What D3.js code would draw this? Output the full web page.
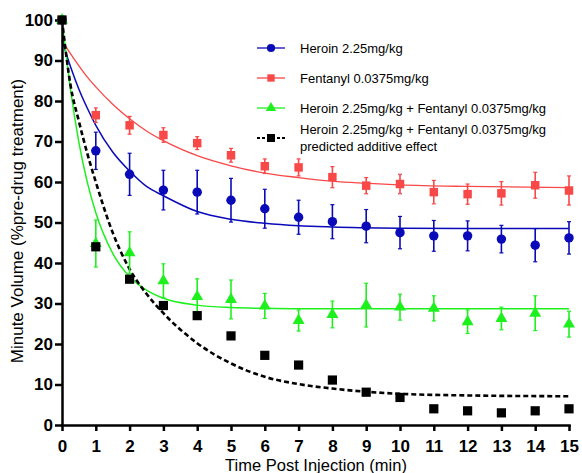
<!DOCTYPE html>
<html>
<head>
	<title></title>
	<style>
		body { margin: 0; background: #fff; }
		text { font-family: "Liberation Sans", Arial, sans-serif; }
		.axis path, .axis line { stroke: #000; stroke-width: 2.5; }
		.axis text { font-size: 17px; font-weight: bold; fill: #000; }
		.fit { fill: none; }
	</style>
</head>
<body>
	<svg id="container" width="582" height="473"></svg>
</body>
<script src="https://d3js.org/d3.v7.min.js"></script>
<script>
	// measured points (mean +/- SEM), one per minute
	let times = [0, 1, 2, 3, 4, 5, 6, 7, 8, 9, 10, 11, 12, 13, 14, 15]
	let heroinMean = [100, 67.7, 61.9, 58.0, 57.5, 55.5, 53.4, 51.3, 50.2, 49.1, 47.5, 46.7, 46.7, 45.9, 44.4, 46.2]
	let heroinSem = [0, 4.6, 5.2, 4.9, 5.4, 5.4, 4.8, 4.2, 4.2, 4.1, 4.0, 3.8, 3.7, 3.4, 4.1, 4.0]
	let fentanylMean = [100, 76.5, 74.0, 71.6, 69.6, 66.6, 63.9, 63.6, 61.2, 59.1, 59.5, 57.5, 57.0, 57.2, 59.2, 57.9]
	let fentanylSem = [0, 1.8, 2.2, 1.8, 1.6, 1.7, 1.8, 2.1, 2.6, 2.0, 2.4, 2.9, 2.5, 2.9, 3.2, 3.6]
	let comboMean = [100, 44.8, 42.5, 35.6, 31.7, 31.0, 29.4, 25.8, 27.3, 29.6, 29.1, 28.8, 25.5, 26.3, 27.6, 24.9]
	let comboSem = [0, 5.8, 5.2, 4.2, 4.4, 4.8, 3.1, 2.6, 3.3, 5.4, 3.2, 3.1, 2.9, 2.8, 4.3, 3.2]
	let additiveMean = [100, 44.0, 36.0, 29.5, 27.0, 22.0, 17.2, 14.8, 11.1, 8.1, 6.8, 4.0, 3.5, 3.0, 3.5, 4.0]

	// fitted curves
	let fitX = [0, 0.25, 0.5, 0.75, 1, 1.5, 2, 2.5, 3, 4, 5, 6, 7, 8, 10, 12, 15]
	let heroinFit = [95, 88.5, 82.9, 78.2, 74.0, 67.4, 62.7, 58.9, 56.6, 52.7, 50.8, 49.8, 49.2, 48.9, 48.6, 48.5, 48.5]
	let fentanylFit = [95, 91.7, 88.7, 85.9, 83.5, 79.2, 75.6, 72.6, 70.2, 66.5, 64.0, 62.2, 61.1, 60.2, 59.3, 58.9, 58.6]
	let comboFit = [100, 82.9, 69.8, 59.9, 52.4, 42.4, 36.6, 33.3, 31.3, 29.6, 29.0, 28.8, 28.7, 28.7, 28.7, 28.7, 28.7]
	let additiveFit = [100, 84, 75, 67, 60, 47.5, 38.5, 32.4, 27.6, 20.2, 15.2, 11.9, 10.1, 9.0, 7.7, 7.3, 7.1]

	let legendLabels = [
		["Heroin 2.25mg/kg"],
		["Fentanyl 0.0375mg/kg"],
		["Heroin 2.25mg/kg + Fentanyl 0.0375mg/kg"],
		["Heroin 2.25mg/kg + Fentanyl 0.0375mg/kg", "predicted additive effect"]
	]
	let yTicks = [0, 10, 20, 30, 40, 50, 60, 70, 80, 90, 100]

	let svg = d3.select("#container")

	let x = d3.scaleLinear().domain([0, 15]).range([62, 569])
	let y = d3.scaleLinear().domain([0, 100]).range([425, 20])

	let series = [
		{ mean: heroinMean, sem: heroinSem, fit: heroinFit, color: "#0a0ab8", shape: d3.symbolCircle, size: 70, width: 1.5, dash: null },
		{ mean: fentanylMean, sem: fentanylSem, fit: fentanylFit, color: "#f94848", shape: d3.symbolSquare, size: 72, width: 1.3, dash: null },
		{ mean: comboMean, sem: comboSem, fit: comboFit, color: "#1ef01e", shape: d3.symbolTriangle, size: 62, width: 1.5, dash: null },
		{ mean: additiveMean, sem: null, fit: additiveFit, color: "#000000", shape: d3.symbolSquare, size: 85, width: 2.6, dash: "5,3" }
	]

	let line = d3.line()
		.x(d => x(d[0]))
		.y(d => y(d[1]))
		.curve(d3.curveMonotoneX)

	// fit lines first, then points over them
	series.forEach(s => {
		svg.append("path")
			.attr("class", "fit")
			.attr("d", line(fitX.map((t, i) => [t, s.fit[i]])))
			.attr("stroke", s.color)
			.attr("stroke-width", s.width)
			.attr("stroke-dasharray", s.dash)
	})

	// axes
	let yAxis = d3.axisLeft(y).tickValues(yTicks).tickSize(7).tickSizeOuter(0).tickPadding(2)
	svg.append("g").attr("class", "axis")
		.attr("transform", "translate(62,0)")
		.call(yAxis)

	let xAxis = d3.axisBottom(x).tickValues(times).tickFormat(d3.format("d")).tickSize(6).tickSizeOuter(0).tickPadding(9)
	svg.append("g").attr("class", "axis")
		.attr("transform", "translate(0,425)")
		.call(xAxis)

	svg.selectAll(".axis path.domain").attr("stroke-linecap", "square")

	series.forEach(s => {
		let g = svg.append("g")
		let pts = times.map((t, i) => ({ t: t, m: s.mean[i], e: s.sem ? s.sem[i] : 0 }))
		if (s.sem) {
			let bars = g.selectAll(".bar").data(pts.filter(d => d.e > 0)).enter().append("g")
			bars.append("line")
				.attr("x1", d => x(d.t)).attr("x2", d => x(d.t))
				.attr("y1", d => y(d.m + d.e)).attr("y2", d => y(d.m - d.e))
				.attr("stroke", s.color).attr("stroke-width", 1.6)
			bars.selectAll(".cap").data(d => [d.m + d.e, d.m - d.e].map(v => ({ t: d.t, v: v })))
				.enter().append("line")
				.attr("x1", d => x(d.t) - 2).attr("x2", d => x(d.t) + 2)
				.attr("y1", d => y(d.v)).attr("y2", d => y(d.v))
				.attr("stroke", s.color).attr("stroke-width", 1.2)
		}
		g.selectAll(".pt").data(pts).enter().append("path")
			.attr("d", d3.symbol().type(s.shape).size(s.size))
			.attr("transform", d => `translate(${x(d.t)},${y(d.m)})`)
			.attr("fill", s.color)
	})

	// legend
	let legendY = [48, 78, 108, 138]
	let legend = svg.append("g")
	series.forEach((s, i) => {
		let row = legend.append("g").attr("transform", `translate(0,${legendY[i]})`)
		row.append("line")
			.attr("x1", 257).attr("x2", 285)
			.attr("stroke", s.color)
			.attr("stroke-width", s.dash ? 2.2 : 1.3)
			.attr("stroke-dasharray", s.dash ? "3,2" : null)
		row.append("path")
			.attr("d", d3.symbol().type(s.shape).size(s.size * 0.75))
			.attr("transform", "translate(271,0)")
			.attr("fill", s.color)
		let lines = legendLabels[i]
		lines.forEach((txt, j) => {
			row.append("text")
				.attr("x", 300)
				.attr("y", (j - (lines.length - 1) / 2) * 17.5)
				.attr("dy", "0.35em")
				.attr("font-size", "13px")
				.attr("fill", "#000")
				.text(txt)
		})
	})

	// axis titles
	svg.append("text")
		.attr("x", 316).attr("y", 471)
		.attr("text-anchor", "middle")
		.attr("font-size", "16.5px")
		.text("Time Post Injection (min)")

	svg.append("text")
		.attr("transform", "translate(23,221) rotate(-90)")
		.attr("text-anchor", "middle")
		.attr("font-size", "17px")
		.text("Minute Volume (%pre-drug treatment)")
</script>
</html>
